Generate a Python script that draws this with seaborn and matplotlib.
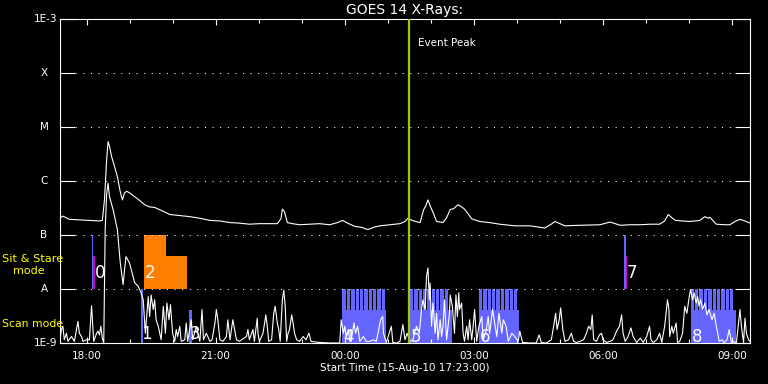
import numpy as np
import pandas as pd
import matplotlib
matplotlib.use('Agg')
import matplotlib.pyplot as plt
import matplotlib.dates as mdates
from matplotlib.ticker import NullLocator
import seaborn as sns

# GOES 14 X-ray fluxes, times in minutes after the start time
start = pd.Timestamp('2010-08-15 17:23:00')
span_min = 962
event_peak = pd.Timestamp('2010-08-16 01:29:00')

# long channel (1-8 A), log10 W/m^2
long_min = [0, 4, 13, 27, 41, 55, 59, 62, 65, 67,
            69, 72, 76, 80, 84, 87, 90, 93, 97, 104,
            111, 118, 125, 132, 142, 153, 167, 181, 195, 209,
            223, 237, 250, 264, 278, 292, 303, 308, 310, 313,
            317, 324, 334, 348, 362, 376, 387, 394, 401, 411,
            421, 429, 439, 446, 460, 474, 481, 485, 491, 496,
            502, 507, 510, 513, 515, 517, 521, 525, 534, 539,
            544, 549, 555, 560, 564, 569, 574, 585, 599, 613,
            634, 655, 676, 686, 690, 697, 704, 725, 753, 767,
            781, 795, 809, 823, 836, 843, 848, 853, 858, 878,
            892, 899, 904, 906, 915, 927, 934, 941, 948, 955,
            962]
long_log = [-6.69, -6.65, -6.71, -6.72, -6.73, -6.74, -6.73, -6.35, -5.61, -5.27,
            -5.36, -5.55, -5.73, -5.92, -6.20, -6.35, -6.22, -6.19, -6.22, -6.29,
            -6.36, -6.44, -6.48, -6.49, -6.55, -6.62, -6.64, -6.66, -6.69, -6.73,
            -6.74, -6.77, -6.78, -6.80, -6.79, -6.79, -6.79, -6.70, -6.52, -6.57,
            -6.77, -6.79, -6.81, -6.80, -6.79, -6.81, -6.77, -6.73, -6.78, -6.84,
            -6.86, -6.90, -6.85, -6.83, -6.81, -6.79, -6.75, -6.69, -6.73, -6.75,
            -6.77, -6.53, -6.46, -6.35, -6.42, -6.49, -6.61, -6.75, -6.77, -6.68,
            -6.53, -6.51, -6.44, -6.48, -6.52, -6.61, -6.70, -6.75, -6.77, -6.80,
            -6.83, -6.83, -6.87, -6.79, -6.75, -6.79, -6.83, -6.82, -6.81, -6.76,
            -6.82, -6.81, -6.81, -6.80, -6.80, -6.74, -6.62, -6.68, -6.73, -6.75,
            -6.73, -6.66, -6.69, -6.67, -6.80, -6.81, -6.81, -6.75, -6.71, -6.74,
            -6.78]

# short channel (0.5-4 A), log10 W/m^2
short_min = [0, 2, 4, 6, 9, 11, 16, 20, 25, 27,
             30, 32, 37, 41, 44, 47, 51, 53, 55, 57,
             59, 61, 63, 65, 67, 69, 74, 80, 84, 88,
             90, 92, 97, 104, 109, 113, 116, 119, 123, 125,
             127, 130, 132, 134, 137, 139, 141, 144, 147, 149,
             152, 154, 157, 160, 162, 164, 167, 169, 174, 176,
             178, 183, 185, 190, 195, 198, 200, 204, 209, 212,
             216, 218, 220, 223, 227, 232, 234, 237, 241, 246,
             250, 260, 262, 264, 269, 271, 275, 276, 278, 283,
             287, 289, 291, 295, 298, 300, 303, 305, 307, 310,
             312, 314, 316, 318, 320, 323, 325, 327, 330, 334,
             339, 343, 347, 350, 362, 376, 390, 392, 395, 397,
             399, 402, 404, 406, 410, 412, 415, 418, 423, 427,
             432, 437, 441, 447, 450, 451, 455, 460, 462, 464,
             469, 474, 478, 481, 484, 488, 492, 497, 501, 504,
             506, 509, 511, 513, 515, 516, 518, 520, 523, 525,
             527, 530, 532, 534, 536, 539, 543, 544, 547, 550,
             552, 554, 556, 557, 560, 562, 564, 567, 569, 571,
             574, 576, 578, 581, 584, 588, 590, 594, 597, 599,
             603, 606, 609, 612, 616, 618, 622, 625, 630, 634,
             639, 641, 645, 655, 664, 668, 671, 678, 685, 689,
             691, 693, 696, 698, 701, 704, 709, 713, 716, 720,
             725, 730, 734, 737, 740, 742, 744, 748, 752, 755,
             757, 762, 767, 771, 776, 780, 783, 785, 788, 792,
             796, 799, 804, 809, 813, 818, 822, 824, 827, 832,
             836, 839, 843, 847, 849, 850, 853, 855, 859, 861,
             864, 868, 871, 874, 877, 879, 882, 884, 887, 889,
             891, 893, 896, 899, 902, 905, 909, 912, 915, 917,
             919, 923, 926, 930, 933, 936, 939, 943, 948, 950,
             953, 955, 957, 960, 962]
short_log = [-8.94, -8.75, -8.69, -8.94, -8.82, -8.97, -8.88, -8.97, -8.60, -8.82,
             -8.88, -8.97, -8.94, -8.94, -8.31, -8.97, -8.82, -8.78, -8.85, -8.69,
             -8.91, -9.00, -6.90, -6.25, -6.04, -6.29, -6.53, -6.90, -7.51, -7.92,
             -7.64, -7.40, -7.52, -7.88, -7.95, -8.07, -8.20, -8.82, -8.14, -8.51,
             -8.11, -8.38, -8.20, -8.57, -8.69, -8.82, -8.94, -8.32, -8.82, -8.26,
             -8.57, -8.29, -8.82, -8.97, -8.75, -8.88, -8.69, -8.97, -8.94, -8.63,
             -8.97, -8.57, -8.94, -8.69, -8.97, -8.38, -8.94, -8.82, -8.97, -8.94,
             -8.63, -8.38, -8.57, -8.94, -8.97, -8.88, -8.57, -8.94, -8.57, -8.94,
             -8.97, -8.88, -8.75, -8.94, -8.75, -8.97, -8.54, -8.82, -8.97, -8.82,
             -8.48, -8.69, -8.97, -8.94, -8.45, -8.32, -8.63, -8.75, -8.97, -8.20,
             -8.02, -8.32, -8.97, -8.82, -8.75, -8.48, -8.63, -8.82, -8.94, -8.97,
             -8.88, -8.94, -8.82, -8.97, -8.99, -9.00, -9.00, -8.57, -8.82, -8.69,
             -8.88, -8.75, -8.97, -8.94, -8.63, -8.82, -8.69, -8.97, -8.88, -8.97,
             -8.97, -8.94, -8.97, -8.57, -8.51, -8.82, -8.99, -8.78, -8.69, -8.99,
             -9.00, -8.97, -8.66, -8.94, -8.82, -8.97, -8.94, -8.69, -8.82, -8.38,
             -8.20, -8.38, -7.77, -7.61, -8.20, -7.89, -8.69, -8.26, -8.82, -8.45,
             -8.94, -8.57, -8.88, -8.69, -8.20, -8.94, -8.45, -8.11, -8.32, -8.82,
             -8.11, -8.51, -8.07, -8.38, -8.26, -8.82, -8.97, -8.69, -8.94, -8.57,
             -8.94, -8.69, -8.38, -8.97, -8.69, -8.51, -8.94, -8.78, -8.51, -8.82,
             -8.38, -8.63, -8.88, -8.45, -8.82, -8.57, -8.69, -8.97, -8.82, -8.88,
             -8.97, -8.78, -8.99, -9.00, -9.00, -8.85, -8.99, -9.00, -8.94, -8.63,
             -8.45, -8.75, -8.57, -8.35, -8.75, -8.97, -8.94, -8.82, -8.97, -8.99,
             -8.97, -8.94, -8.82, -8.69, -8.75, -8.48, -8.94, -8.97, -8.85, -8.82,
             -8.94, -8.99, -8.97, -8.94, -8.78, -8.69, -8.48, -8.82, -8.97, -8.88,
             -8.72, -8.88, -8.99, -8.91, -8.99, -8.88, -8.69, -8.94, -8.99, -8.94,
             -8.82, -8.99, -8.69, -8.20, -8.38, -8.88, -8.69, -8.82, -8.63, -8.99,
             -8.97, -8.82, -8.32, -8.45, -8.17, -8.01, -8.20, -8.07, -8.26, -8.14,
             -8.32, -8.20, -8.38, -8.26, -8.48, -8.38, -8.57, -8.45, -8.69, -8.82,
             -8.97, -8.94, -8.99, -8.94, -8.75, -8.99, -8.97, -9.00, -8.38, -8.69,
             -8.99, -8.54, -8.82, -8.94, -8.97]

# GOES class levels
class_names = ['1E-9', 'A', 'B', 'C', 'M', 'X', '1E-3']
class_levels = [-9, -8, -7, -6, -5, -4, -3]

# observations: pointed (sit & stare) pieces, log10 flux range used as a lane
box_id = ['0', '0', '1', '2', '2', '3', '7', '7']
box_t0 = [44.4, 46.7, 112.3, 116.5, 147.2, 179.7, 786.2, 788.6]
box_t1 = [46.7, 48.6, 116.0, 147.2, 176.5, 183.5, 788.6, 790.9]
box_lo = [-8, -8, -9, -8, -8, -9, -8, -8]
box_hi = [-7, -7.38, -8, -7, -7.38, -8.38, -7, -7.38]
box_kind = ['point', 'flag', 'point', 'stare', 'stare', 'point', 'point', 'flag']

# raster scans
scan_id = ['4', '5', '6', '8']
scan_t0 = [393.7, 487.7, 584.0, 879.3]
scan_t1 = [455.1, 547.2, 640.0, 942.0]
raster_period = 6.1
raster_step = 4.7

kind_colors = {'point': '#6464ff', 'flag': '#c800c8', 'stare': '#ff8000'}
scan_color = '#6464ff'


def at(m):
    return (start + pd.Timedelta(minutes=float(m))).to_pydatetime()


plt.style.use('dark_background')
fig = plt.figure(figsize=(7.68, 3.84), dpi=100)
ax = fig.add_axes([60 / 768, 41 / 384, 690 / 768, 324 / 384])
ax.set_facecolor('black')
ax.set_yscale('log')

# observation boxes
for t0, t1, lo, hi, k in zip(box_t0, box_t1, box_lo, box_hi, box_kind):
    ax.fill_between([at(t0), at(t1)], 10.0 ** lo, 10.0 ** hi,
                    color=kind_colors[k], lw=0, zorder=1)

for t0, t1 in zip(scan_t0, scan_t1):
    ax.fill_between([at(t0), at(t1)], 1e-9, 10.0 ** -8.38,
                    color=scan_color, lw=0, zorder=1)
    for s in np.arange(t0, t1 - raster_step + 0.01, raster_period):
        ax.fill_between([at(s), at(s + raster_step)], 10.0 ** -8.39, 1e-8,
                        color=scan_color, lw=0, zorder=1)

# curves
long_df = pd.DataFrame({'time': [at(m) for m in long_min],
                        'flux': 10.0 ** np.array(long_log)})
short_df = pd.DataFrame({'time': [at(m) for m in short_min],
                         'flux': 10.0 ** np.array(short_log)})
sns.lineplot(data=long_df, x='time', y='flux', color='white', lw=0.8,
             estimator=None, sort=False, legend=False, ax=ax, zorder=3)
sns.lineplot(data=short_df, x='time', y='flux', color='white', lw=0.8,
             estimator=None, sort=False, legend=False, ax=ax, zorder=3)

# observation numbers
flagged = set(i for i, k in zip(box_id, box_kind) if k == 'flag')
for oid in dict.fromkeys(box_id):
    t0 = min(t for i, t in zip(box_id, box_t0) if i == oid)
    lo = min(l for i, l in zip(box_id, box_lo) if i == oid)
    dx = 2.3 if oid in flagged else 0.6
    dy = 8 if lo > -9 else 3
    ax.annotate(oid, xy=(at(t0), 10.0 ** lo), xytext=(dx, dy),
                textcoords='offset points', ha='left', va='baseline',
                color='white', fontsize=12, zorder=4)
for oid, t0 in zip(scan_id, scan_t0):
    ax.annotate(oid, xy=(at(t0), 1e-9), xytext=(0.6, 1),
                textcoords='offset points', ha='left', va='baseline',
                color='white', fontsize=12, zorder=4)

# event peak
ax.axvline(event_peak.to_pydatetime(), color='#99cc00', lw=1.6, zorder=5)
ax.annotate('Event Peak', xy=(event_peak.to_pydatetime(), 1),
            xycoords=('data', 'axes fraction'), xytext=(6.5, -17),
            textcoords='offset points', ha='left', va='center',
            color='white', fontsize=7.5)

# axes
ax.set_xlim(at(0), at(span_min))
ax.set_ylim(1e-9, 1e-3)
ax.set_xlabel('')
ax.set_ylabel('')
ax.xaxis.set_major_locator(mdates.HourLocator(byhour=range(0, 24, 3)))
ax.xaxis.set_major_formatter(mdates.DateFormatter('%H:%M'))
ax.xaxis.set_minor_locator(mdates.HourLocator())
ax.tick_params(axis='x', which='major', direction='in', length=4.5, width=0.8,
               top=True, bottom=True, colors='white', labelsize=7.5, pad=6)
ax.tick_params(axis='x', which='minor', direction='in', length=3, width=0.8,
               top=True, bottom=True, colors='white')
ax.set_yticks([10.0 ** v for v in class_levels])
ax.yaxis.set_minor_locator(NullLocator())
ax.tick_params(axis='y', which='major', direction='in', length=11, width=0.8,
               left=True, right=True, labelleft=False, colors='white')
ax.grid(axis='y', which='major', color='white', lw=0.75, linestyle=(0, (1, 6.3)))
ax.grid(axis='x', visible=False)
for sp in ax.spines.values():
    sp.set_color('white')
    sp.set_linewidth(0.8)

ytr = ax.get_yaxis_transform()
for name, lev in zip(class_names, class_levels):
    if name.startswith('1E'):
        ax.text(-0.0045, 10.0 ** lev, name, transform=ytr, ha='right',
                va='center', color='white', fontsize=7.5)
    else:
        ax.text(-0.0232, 10.0 ** lev, name, transform=ytr, ha='center',
                va='center', color='white', fontsize=7.5)

# lanes and titles
fig.text(2 / 768, 1 - 259 / 384, 'Sit & Stare', color='yellow', fontsize=8.2,
         ha='left', va='center')
fig.text(13 / 768, 1 - 271 / 384, 'mode', color='yellow', fontsize=8,
         ha='left', va='center')
fig.text(2 / 768, 1 - 324 / 384, 'Scan mode', color='yellow', fontsize=7.8,
         ha='left', va='center')
fig.text(405 / 768, 1 - 10 / 384, 'GOES 14 X-Rays:', color='white',
         fontsize=10, ha='center', va='center')
fig.text(405 / 768, 1 - 368 / 384, 'Start Time (15-Aug-10 17:23:00)',
         color='white', fontsize=7.5, ha='center', va='center')

fig.savefig('out.png', dpi=100, facecolor='black')
